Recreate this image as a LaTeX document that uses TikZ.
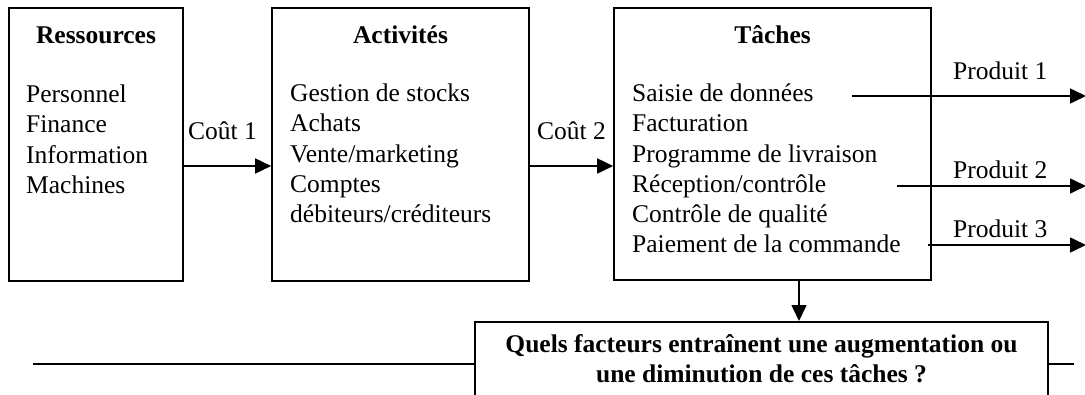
\documentclass[tikz,border=0pt]{standalone}
\usepackage{fontspec}
\setmainfont{Liberation Serif}
\usetikzlibrary{arrows.meta}
\begin{document}
\begin{tikzpicture}[x=1pt,y=-1pt,
  box/.style={draw, line width=1.6pt, inner sep=0pt},
  txt/.style={anchor=base west, inner sep=0pt, font=\fontsize{25.5}{30}\selectfont},
  lbl/.style={anchor=base west, inner sep=0pt, font=\fontsize{25.5}{30}\selectfont},
  head/.style={anchor=base, inner sep=0pt, font=\fontsize{25.5}{30}\selectfont\bfseries},
  qtxt/.style={anchor=base, inner sep=0pt, font=\fontsize{25.5}{30}\selectfont\bfseries},
  arr/.style={line width=1.6pt, -{Triangle[length=16pt,width=15pt]}},
  ln/.style={line width=1.6pt}]
\useasboundingbox (0,0) rectangle (1085,394);
% boxes
\node[box, minimum width=174pt, minimum height=273pt] (r) at (96,144.5) {};
\node[box, minimum width=257pt, minimum height=273pt] (a) at (400.5,144.5) {};
\node[box, minimum width=317pt, minimum height=272pt] (t) at (772.5,144) {};
\node[box, fill=white, minimum width=573pt, minimum height=100pt, anchor=north] (q) at (761.5,321) {};
% headings
\node[head] (rh) at (96,43) {Ressources};
\node[head] (ah) at (400.5,43) {Activités};
\node[head] (th) at (772.5,43) {Tâches};
% lists
\node[txt] (r1) at (26,102) {Personnel};
\node[txt] (r2) at (26,132.5) {Finance};
\node[txt] (r3) at (26,163) {Information};
\node[txt] (r4) at (26,193) {Machines};
\node[txt] (a1) at (290,101) {Gestion de stocks};
\node[txt] (a2) at (290,131.5) {Achats};
\node[txt] (a3) at (290,162) {Vente/marketing};
\node[txt] (a4) at (290,192) {Comptes};
\node[txt] (a5) at (290,222) {débiteurs/créditeurs};
\node[txt] (t1) at (632,101) {Saisie de données};
\node[txt] (t2) at (632,131.5) {Facturation};
\node[txt] (t3) at (632,162) {Programme de livraison};
\node[txt] (t4) at (632,192) {Réception/contrôle};
\node[txt] (t5) at (632,222) {Contrôle de qualité};
\node[txt] (t6) at (632,252) {Paiement de la commande};
% bottom question
\node[qtxt] (q1) at (761.5,352) {Quels facteurs entraînent une augmentation ou};
\node[qtxt] (q2) at (761.5,382) {une diminution de ces tâches ?};
% cost arrows
\coordinate (yc) at (0,166);
\draw[arr] (r.east |- yc) -- (a.west |- yc);
\draw[arr] (a.east |- yc) -- (t.west |- yc);
\node[lbl] (c1) at (188,139) {Coût 1};
\node[lbl] (c2) at (537,139) {Coût 2};
% product arrows
\coordinate (p1s) at (852,96);   \coordinate (p1e) at (1086,96);
\coordinate (p2s) at (897,186);  \coordinate (p2e) at (1086,186);
\coordinate (p3s) at (928,245);  \coordinate (p3e) at (1086,245);
\draw[arr] (p1s) -- (p1e);
\draw[arr] (p2s) -- (p2e);
\draw[arr] (p3s) -- (p3e);
\node[lbl] (pl1) at (953,79) {Produit 1};
\node[lbl] (pl2) at (953,178) {Produit 2};
\node[lbl] (pl3) at (953,237) {Produit 3};
% down arrow
\coordinate (dx) at (799,0);
\draw[arr] (t.south -| dx) -- (q.north -| dx);
% horizontal line
\coordinate (hl) at (33,364);
\coordinate (hr) at (1074,364);
\draw[ln] (hl) -- (q.west |- hl);
\draw[ln] (q.east |- hr) -- (hr);
\end{tikzpicture}
\end{document}
